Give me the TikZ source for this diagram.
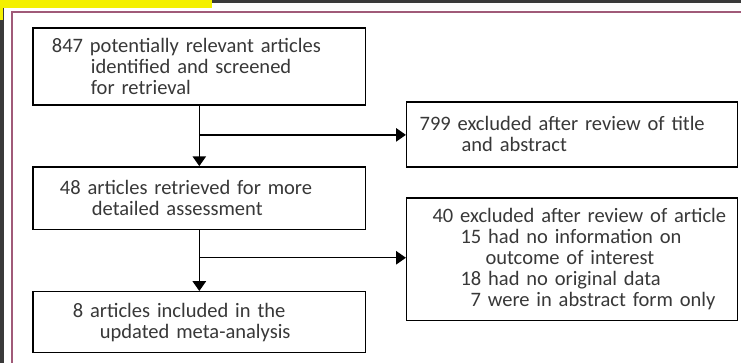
\documentclass[tikz,border=0pt]{standalone}
\usepackage{fontspec}
\setmainfont{Carlito}
\usetikzlibrary{positioning, arrows.meta}

\newlength{\pxu}
\setlength{\pxu}{0.025cm}

\definecolor{inkgray}{HTML}{383838}
\definecolor{framedark}{HTML}{3A3A3A}
\definecolor{framepink}{HTML}{A05A78}
\definecolor{hiliteyellow}{HTML}{F4F000}

\tikzset{
    stage/.style={draw, rectangle, line width=1pt, inner xsep=0pt, inner ysep=0pt,
        align=left, text width=333\pxu, text=inkgray,
        font=\fontsize{14.6}{14.94}\selectfont},
    outcome/.style={stage, text width=331\pxu},
    flow/.style={line width=1pt, -{Triangle[width=9.5pt, length=7pt]}}
}

\begin{document}
\begin{tikzpicture}[x=0.025cm, y=-0.025cm] % one unit per pixel
    % Page frame
    \fill[framedark] (0,0) rectangle (742,363);
    \fill[white] (4,3) rectangle (742,363);
    \fill[hiliteyellow] (0,0) rectangle (212,8);
    \fill[hiliteyellow] (0,0) rectangle (3,20);
    \draw[framepink, line width=1pt] (12,363) -- (12,12) -- (742,12);
    \useasboundingbox (0,0) rectangle (742,363);

    % Screening
    \node[stage, minimum height=77\pxu] (screened) at (199.5,66.5)
        {\hspace*{19\pxu}847 potentially relevant articles\\
         \hspace*{58\pxu}identified and screened\\
         \hspace*{58\pxu}for retrieval};

    % Retrieval
    \node[stage, minimum height=63\pxu] (retrieved) at (199.5,198.5)
        {\hspace*{27\pxu}48 articles retrieved for more\\
         \hspace*{59\pxu}detailed assessment};

    % Inclusion
    \node[stage, minimum height=61\pxu] (included) at (199.5,322.5)
        {\hspace*{40\pxu}8 articles included in the\\
         \hspace*{67\pxu}updated meta-analysis};

    % Exclusions
    \node[outcome, minimum height=65\pxu] (excltitle) at (572.5,134.5)
        {\hspace*{13\pxu}799 excluded after review of title\\
         \hspace*{55\pxu}and abstract};
    \node[outcome, minimum height=123\pxu] (exclarticle) at (572.5,259.5)
        {\hspace*{26\pxu}40 excluded after review of article\\
         \hspace*{54\pxu}15 had no information on\\
         \hspace*{79\pxu}outcome of interest\\
         \hspace*{54\pxu}18 had no original data\\
         \hspace*{64\pxu}7 were in abstract form only};

    % Branch points
    \coordinate (split1) at (199.5,135);
    \coordinate (split2) at (199.5,258);

    % Arrows
    \draw[flow] (screened) -- (retrieved);
    \draw[flow] (retrieved) -- (included);
    \draw[flow] (split1) -- (split1 -| excltitle.west);
    \draw[flow] (split2) -- (split2 -| exclarticle.west);
\end{tikzpicture}
\end{document}
